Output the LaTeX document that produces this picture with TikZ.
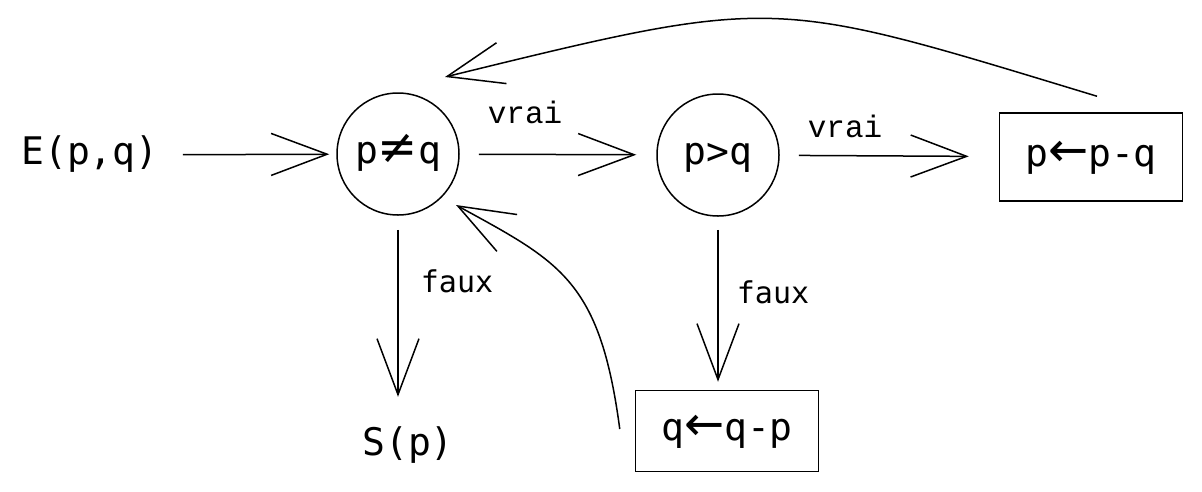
\documentclass[tikz,border=0pt]{standalone}
\usepackage{fontspec}
\setmonofont{DejaVu Sans Mono}
\newfontfamily\lblfont{Liberation Mono}
\newfontfamily\symfont{DejaVu Sans}
\newcommand{\bigsym}[1]{{\symfont\fontsize{48}{48}\selectfont #1}}
\usetikzlibrary{arrows.meta,calc}
\begin{document}
\begin{tikzpicture}[x=1pt,y=-1pt,
  every node/.style={inner sep=0pt},
  main/.style={font=\fontsize{38}{40}\selectfont\ttfamily, text height=27pt, text depth=9pt},
  circ/.style={main, circle, draw, line width=1.5pt, minimum size=122pt},
  boxn/.style={main, rectangle, draw, line width=1.5pt, minimum width=183pt},
  vlbl/.style={font=\fontsize{31}{33}\selectfont\lblfont, anchor=base},
  flbl/.style={font=\fontsize{30}{32}\selectfont\ttfamily, anchor=base},
  arr/.style={line width=1.5pt, -{Straight Barb[length=56pt,width=42pt,line width=1.5pt]}},
]
\useasboundingbox (0,0) rectangle (1202,491);

\node[main] (E) at (90,155) {E(p,q)};
\node[circ] (ne) at (398,154) {p\bigsym{≠}q};
\node[circ] (gt) at (718,155) {p>q};
\node[boxn, minimum height=88pt] (pb) at (1091,157) {p\bigsym{←}p-q};
\node[boxn, minimum height=81pt] (qb) at (727,431) {q\bigsym{←}q-p};
\node[main] (sp) at (408,446) {S(p)};

\node[vlbl] (v1) at (525,123) {vrai};
\node[vlbl] (v2) at (845,137) {vrai};
\node[flbl] (f1) at (457,292) {faux};
\node[flbl] (f2) at (773,303) {faux};

\draw[arr, shorten <=24pt, shorten >=7pt] (E) -- (ne);
\draw[arr, shorten <=19pt, shorten >=20pt] (ne) -- (gt);
\draw[arr, shorten <=19pt, shorten >=30pt] (gt) -- (pb);
\draw[arr, shorten <=14pt, shorten >=31pt] (ne.south) -- (ne.south |- sp.north);
\draw[arr, shorten <=13pt, shorten >=8pt] (gt.south) -- (gt.south |- qb.north);

\coordinate (c1s) at ($(qb.west)+(-15,-2)$);
\coordinate (c1e) at ($(ne)+(58,51)$);
\draw[arr] (c1s) .. controls (600,280) and (560,262) .. (c1e);

\coordinate (c2s) at ($(pb.north)+(6,-16)$);
\coordinate (c2e) at ($(ne)+(47,-77)$);
\draw[arr] (c2s) .. controls (770,-3) and (780,-5) .. (c2e);
\end{tikzpicture}
\end{document}
